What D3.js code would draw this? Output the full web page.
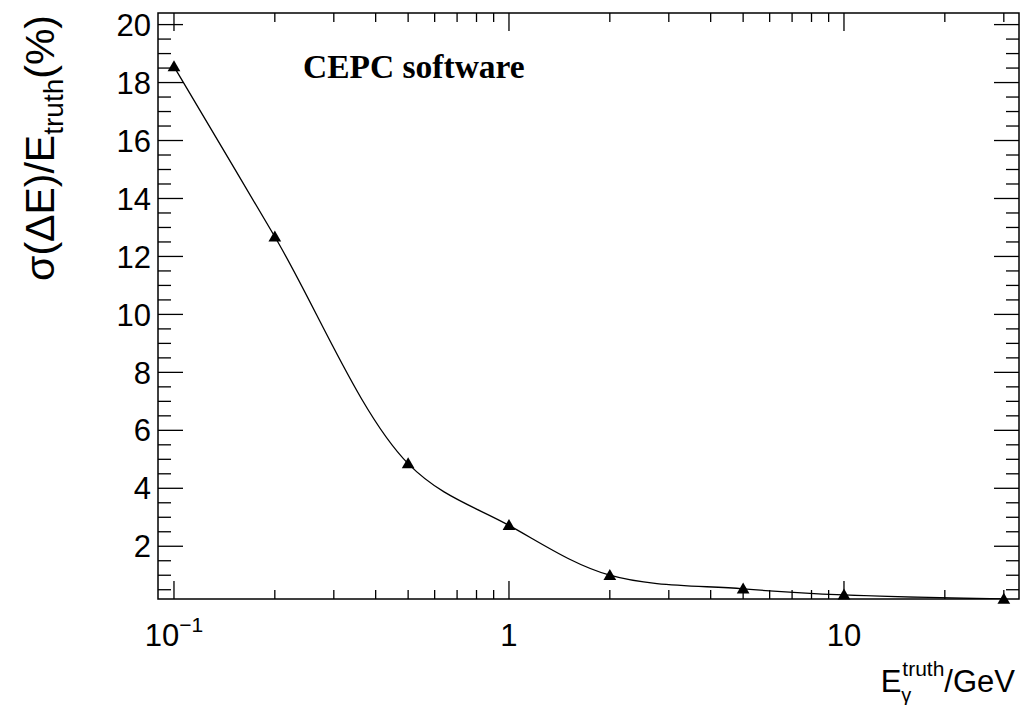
<!DOCTYPE html>
<html>
<head>
<meta charset="utf-8">
<script src="https://cdn.jsdelivr.net/npm/d3@7"></script>
<style>
  html, body { margin: 0; padding: 0; background: #fff; }
  svg { display: block; }
  text { font-family: "Liberation Sans", Arial, Helvetica, sans-serif; fill: #000; }
  text.serif { font-family: "Liberation Serif", "Times New Roman", serif; font-weight: bold; }
</style>
</head>
<body>
<svg id="chart" width="1021" height="705"></svg>
<script>
// Photon energy (GeV) and relative energy resolution (%)
const energies = [0.1, 0.2, 0.5, 1, 2, 5, 10, 30];
const resolution = [18.55, 12.68, 4.85, 2.72, 1.0, 0.53, 0.32, 0.18];

// Axis ticks
const xMajorTicks = [0.1, 1, 10];
const xMajorLabels = [["10", "\u22121"], ["1", ""], ["10", ""]];
const xMinorTicks = [0.2, 0.3, 0.4, 0.5, 0.6, 0.7, 0.8, 0.9,
                     2, 3, 4, 5, 6, 7, 8, 9, 20, 30];
const yMajorTicks = [2, 4, 6, 8, 10, 12, 14, 16, 18, 20];
const yMinorTicks = [0.5, 1, 1.5, 2.5, 3, 3.5, 4.5, 5, 5.5, 6.5, 7, 7.5,
                     8.5, 9, 9.5, 10.5, 11, 11.5, 12.5, 13, 13.5, 14.5, 15, 15.5,
                     16.5, 17, 17.5, 18.5, 19, 19.5];

const xDomain = [0.0896, 33.3];
const yDomain = [0.18, 20.4];

const frame = { left: 158, right: 1019, top: 13, bottom: 599 };

const svg = d3.select("#chart");

const x = d3.scaleLog().domain(xDomain).range([frame.left, frame.right]);
const y = d3.scaleLinear().domain(yDomain).range([frame.bottom, frame.top]);

// clip for the curve
svg.append("defs").append("clipPath").attr("id", "frameClip")
  .append("rect")
  .attr("x", frame.left).attr("y", frame.top)
  .attr("width", frame.right - frame.left)
  .attr("height", frame.bottom - frame.top);

// Ticks (drawn on all four sides, pointing inward)
const ticks = svg.append("g").attr("stroke", "#000").attr("stroke-width", 1.3);
const xMajorLen = 18, xMinorLen = 9, yMajorLen = 25, yMinorLen = 13;

function xTick(v, len) {
  const px = x(v);
  ticks.append("line").attr("x1", px).attr("x2", px)
    .attr("y1", frame.bottom).attr("y2", frame.bottom - len);
  ticks.append("line").attr("x1", px).attr("x2", px)
    .attr("y1", frame.top).attr("y2", frame.top + len);
}
function yTick(v, len) {
  const py = y(v);
  ticks.append("line").attr("y1", py).attr("y2", py)
    .attr("x1", frame.left).attr("x2", frame.left + len);
  ticks.append("line").attr("y1", py).attr("y2", py)
    .attr("x1", frame.right).attr("x2", frame.right - len);
}
xMajorTicks.forEach(v => xTick(v, xMajorLen));
xMinorTicks.forEach(v => xTick(v, xMinorLen));
yMajorTicks.forEach(v => yTick(v, yMajorLen));
yMinorTicks.forEach(v => yTick(v, yMinorLen));

// Frame
svg.append("rect")
  .attr("x", frame.left).attr("y", frame.top)
  .attr("width", frame.right - frame.left)
  .attr("height", frame.bottom - frame.top)
  .attr("fill", "none").attr("stroke", "#000").attr("stroke-width", 1.5);

// Y tick labels
svg.append("g").selectAll("text").data(yMajorTicks).join("text")
  .attr("x", frame.left - 7)
  .attr("y", d => y(d))
  .attr("dy", "0.36em")
  .attr("text-anchor", "end")
  .attr("font-size", 31)
  .text(d => d);

// X tick labels (with exponent where needed)
xMajorTicks.forEach((v, i) => {
  const [base, exp] = xMajorLabels[i];
  const t = svg.append("text")
    .attr("y", 646)
    .attr("font-size", 31);
  t.append("tspan").text(base);
  if (exp) {
    t.append("tspan").attr("font-size", 21).attr("dy", -14).text(exp);
  }
  const w = t.node().getComputedTextLength();
  t.attr("x", x(v) - w / 2);
});

// Curve through the points
const line = d3.line()
  .x((d, i) => x(energies[i]))
  .y(d => y(d))
  .curve(d3.curveCatmullRom.alpha(0.5));

svg.append("path")
  .datum(resolution)
  .attr("clip-path", "url(#frameClip)")
  .attr("d", line)
  .attr("fill", "none")
  .attr("stroke", "#000")
  .attr("stroke-width", 1.3);

// Markers: filled upward triangles
svg.append("g").selectAll("path").data(resolution).join("path")
  .attr("d", d3.symbol(d3.symbolTriangle, 70))
  .attr("transform", (d, i) => `translate(${x(energies[i])},${y(d) + 1})`)
  .attr("fill", "#000");

// Title text inside the frame
svg.append("text")
  .attr("class", "serif")
  .attr("x", 303).attr("y", 78)
  .attr("font-size", 33.5)
  .text("CEPC software");

// Y axis title: σ(ΔE)/E_truth(%)
const yTitle = svg.append("text")
  .attr("transform", "translate(54,15) rotate(-90)")
  .attr("text-anchor", "end")
  .attr("font-size", 41);
yTitle.append("tspan").text("\u03c3(\u0394E)/E");
yTitle.append("tspan").attr("font-size", 28).attr("dy", 9).text("truth");
yTitle.append("tspan").attr("dy", -9).text("(%)");

// X axis title: E_γ^truth/GeV, right aligned
const xTitle = svg.append("g");
const eText = xTitle.append("text").attr("x", 0).attr("y", 0).attr("font-size", 31).text("E");
const eW = eText.node().getComputedTextLength();
const subG = xTitle.append("text").attr("x", eW).attr("y", 10).attr("font-size", 20).text("\u03b3");
const supT = xTitle.append("text").attr("x", eW + 1).attr("y", -16).attr("font-size", 21).text("truth");
const stackW = Math.max(subG.node().getComputedTextLength(), supT.node().getComputedTextLength() + 1);
const restT = xTitle.append("text").attr("x", eW + stackW).attr("y", 0).attr("font-size", 31).text("/GeV");
const totalW = eW + stackW + restT.node().getComputedTextLength();
xTitle.attr("transform", `translate(${1015 - totalW},692)`);
</script>
</body>
</html>
